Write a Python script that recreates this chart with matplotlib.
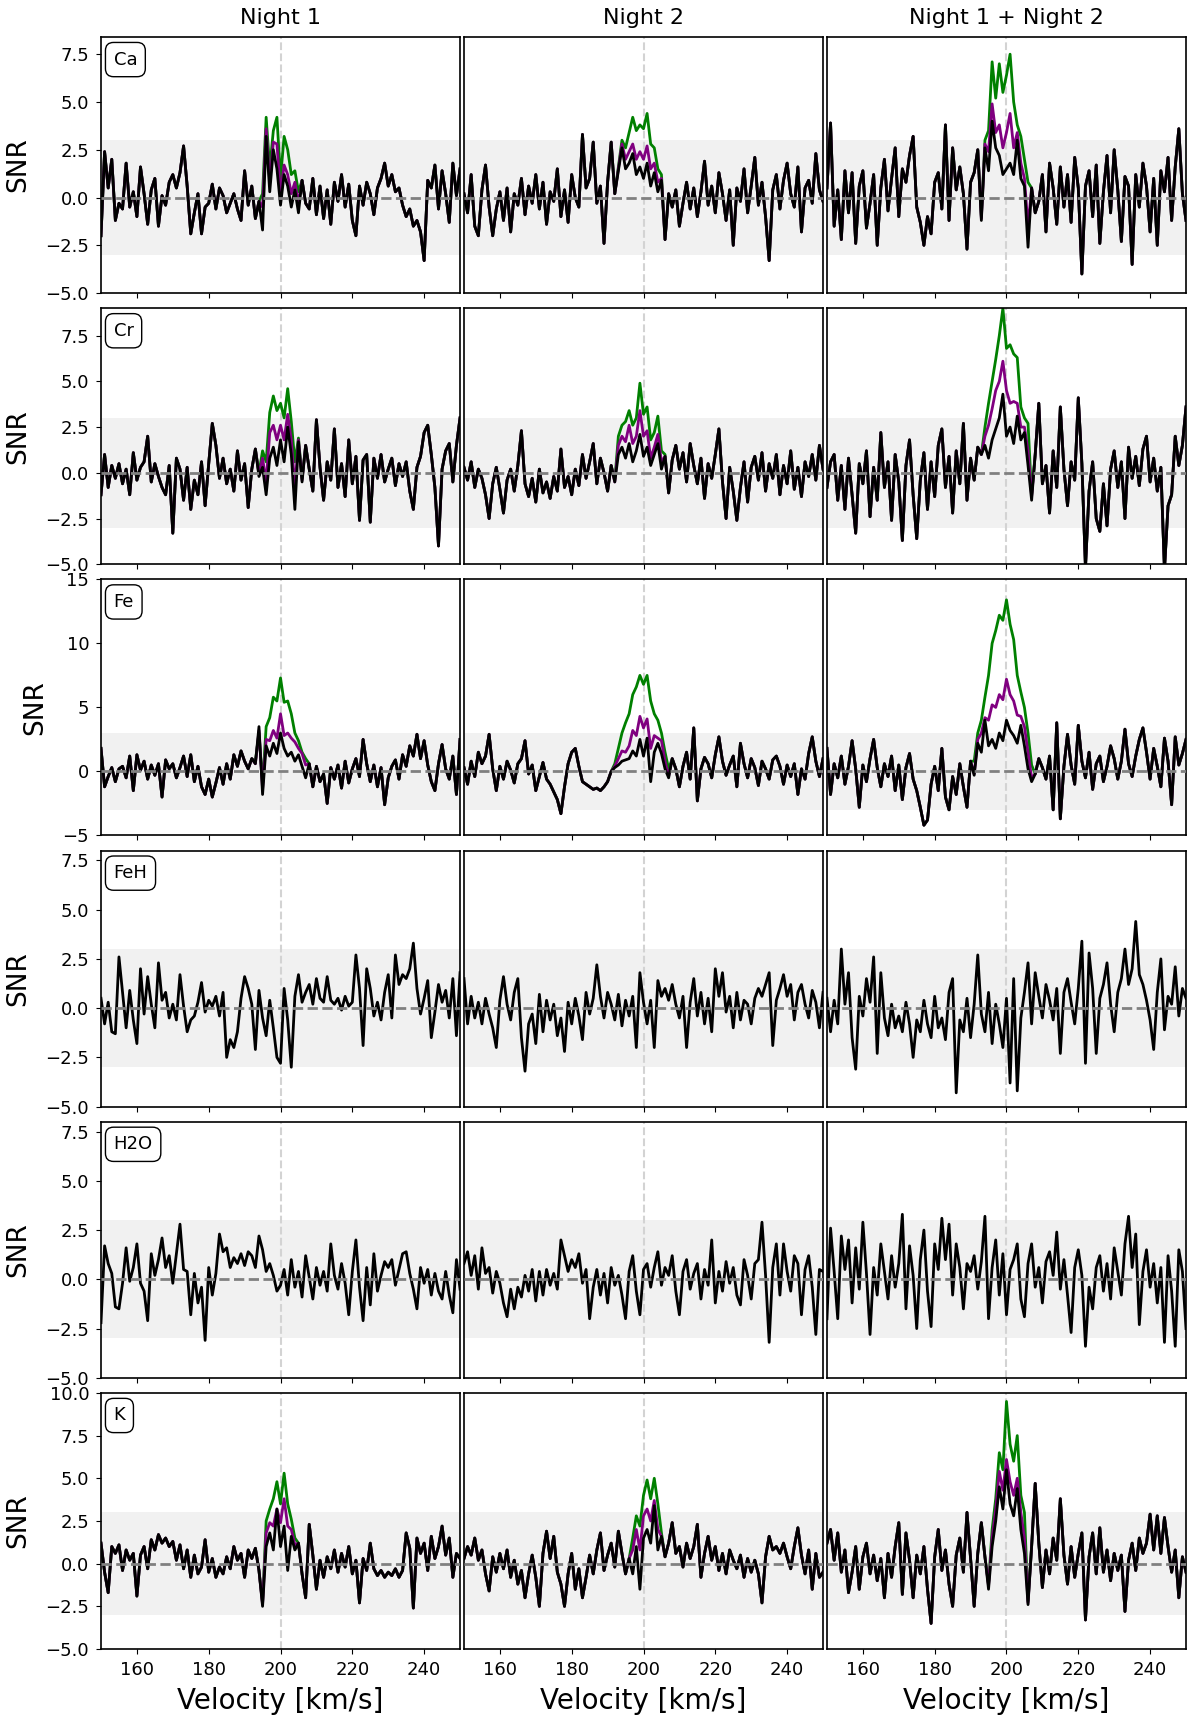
import numpy as np
import matplotlib
matplotlib.use("Agg")
import matplotlib.pyplot as plt

# velocity grid of the CCF, 1 km/s steps
velocity = np.arange(150, 251)

# ---------------- Ca ----------------
ca_n1 = [-2.0, 2.4, 0.5, 2.0, -1.2, -0.3, -0.6, 1.8, -0.5, 0.3,
         -1.0, 1.6, 0.2, -1.4, 0.4, 1.0, -1.5, 0.1, -0.4, 0.8,
         1.2, 0.5, 1.3, 2.7, 0.6, -1.9, -0.8, 0.2, -1.9, -0.5,
         -0.3, 0.7, -0.6, 0.5, 0.1, -0.8, -0.3, 0.2, -0.6, -1.2,
         1.4, -0.4, 0.6, -1.1, -0.2, -1.7, 3.2, 0.3, 2.5, 1.5,
         -0.4, 1.2, 0.6, -0.5, 0.4, -0.8, 0.9, -0.3, -0.6, 1.0,
         -0.9, 0.6, -1.1, 0.4, -1.4, 0.8, -0.2, 1.2, -0.5, 0.7,
         -1.2, -2.0, 0.6, -0.4, 0.8, 0.2, -0.9, 0.5, 1.0, 1.8,
         0.6, 1.2, 0.3, 0.5, -0.4, -1.0, -0.6, -1.5, -1.2, -1.8,
         -3.3, 0.9, 0.5, 1.7, -0.6, 1.4, 0.2, -1.3, 1.8, 0.1,
         1.5]
ca_n1_start = 195
ca_n1_green = [0.2, 4.2, 1.5, 3.5, 4.2, 1.0, 3.2, 2.5, 1.2, 1.4, 0.3, 0.9]
ca_n1_purple = [-0.5, 3.6, 0.8, 2.9, 2.8, 0.2, 1.7, 1.2, 0.2, 0.8, -0.3, 0.9]

ca_n2 = [0.2, -0.8, 1.2, -1.5, -2.0, 0.4, 1.7, -0.5, -2.0, -0.6,
         0.3, -1.2, 0.5, -1.8, 0.2, -0.4, 1.0, -0.9, 0.6, -0.3,
         1.2, -0.6, 0.8, -1.4, 0.3, -0.2, 1.5, -1.0, 0.4, -1.3,
         1.2, 0.0, -0.5, 3.3, 0.5, 1.0, 2.9, -0.3, 0.6, -2.4,
         0.8, 2.9, 0.2, 1.4, 2.6, 1.5, 1.8, 2.3, 1.2, 1.6,
         1.0, 1.8, 0.6, 1.3, 0.3, 0.9, -2.2, 0.2, -0.5, 0.4,
         -1.5, -0.3, 0.8, -0.6, 0.5, -1.0, 0.3, 1.9, -0.4, 0.6,
         -0.8, 1.3, 0.2, -1.2, 0.4, -2.5, 0.5, -0.2, 1.5, -0.8,
         0.6, 2.1, -0.4, 0.8, -1.0, -3.3, 0.4, 1.2, -0.6, 0.9,
         1.8, 0.2, -0.5, 1.6, -1.8, 0.5, 0.9, -0.3, 2.3, 0.4,
         -0.2]
ca_n2_start = 193
ca_n2_green = [1.6, 3.0, 2.6, 3.4, 4.2, 3.5, 3.8, 3.6, 4.4, 2.8, 2.6, 1.5, 1.2, -2.2]
ca_n2_purple = [1.5, 2.8, 2.0, 2.4, 2.8, 2.0, 2.4, 2.0, 2.7, 1.5, 1.8, 0.8, 1.0, -2.2]

ca_n12 = [0.5, 3.9, -1.5, 0.4, -2.2, 1.4, -0.8, 1.3, -2.4, 0.6,
          1.4, -1.6, -0.3, 1.2, -2.5, 0.5, 2.0, -0.7, 1.0, 2.6,
          -1.0, 1.5, 0.8, 2.2, 3.2, -0.5, -1.3, -2.5, -1.0, -1.9,
          0.8, 1.3, -0.6, 3.8, -1.2, 2.6, 0.4, 1.6, 0.2, -2.7,
          0.8, 1.3, 2.5, -1.2, 2.6, 1.4, 4.0, 2.6, 2.2, 1.2,
          1.5, 1.8, 1.2, 3.0, 1.0, 0.6, -2.6, 0.5, -0.8, -0.2,
          1.2, -1.8, 1.8, 0.5, -1.4, 1.6, -0.5, 1.2, -1.3, 2.1,
          0.5, -4.0, 0.6, 1.4, -1.0, 1.7, -2.4, 0.3, 2.2, -0.8,
          2.5, 0.4, -2.3, 1.1, 0.6, -3.5, 1.2, -0.5, 1.8, 0.6,
          -1.8, 1.0, -2.5, 1.4, 0.3, 2.1, -1.2, 1.6, 3.6, 0.2,
          -1.2]
ca_n12_start = 193
ca_n12_green = [-1.0, 3.0, 3.5, 7.1, 5.2, 7.0, 5.5, 6.4, 7.5, 5.0, 3.8, 3.2, 2.0, 0.8, 0.5]
ca_n12_purple = [-1.1, 2.8, 2.4, 4.9, 3.4, 3.8, 2.6, 3.4, 4.4, 2.6, 3.4, 1.8, 1.0, -1.5, 0.5]

# ---------------- Cr ----------------
cr_n1 = [-1.2, 1.0, -0.8, 0.4, -0.3, 0.5, -0.6, 0.2, -1.2, 1.1,
         -0.4, 0.3, 0.6, 2.0, -0.5, 0.5, -0.2, -0.8, -1.2, 0.4,
         -3.3, 0.8, 0.2, -1.5, 0.3, -2.0, -0.4, -1.2, 0.6, -1.8,
         0.5, 2.7, 1.5, -0.3, 0.8, -0.6, 0.2, -1.0, 1.2, -0.4,
         0.5, -1.9, 0.2, 1.3, -0.2, 0.3, -1.2, 0.8, 1.4, 0.4,
         1.8, 0.6, 2.5, 1.0, -2.0, 1.7, -0.5, 1.5, 0.2, -1.0,
         2.9, 0.3, -1.5, 0.6, -0.4, 2.4, -0.8, 0.5, -1.3, 1.8,
         -0.6, 0.9, -2.6, 0.7, 1.0, -2.7, 0.8, -0.3, 1.0, -0.5,
         0.2, 0.8, -0.7, 0.5, -0.2, 0.6, -1.0, -2.0, 0.3, 0.9,
         2.2, 2.6, 1.0, -0.8, -4.0, 0.2, 1.2, 1.6, -0.5, 1.5,
         3.0]
cr_n1_start = 194
cr_n1_green = [0.0, 1.2, 0.6, 3.3, 4.2, 3.4, 3.8, 3.0, 4.6, 2.8, 0.6, 1.9, -0.3, 1.5]
cr_n1_purple = [-0.1, 0.8, -0.5, 2.2, 2.6, 1.8, 2.6, 1.8, 3.2, 1.8, -0.8, 1.8, -0.4, 1.5]

cr_n2 = [0.3, -0.4, 0.6, -0.8, 0.2, -0.3, -1.2, -2.5, -0.6, 0.3,
         -0.9, -2.2, -0.4, 0.2, -1.0, 0.4, 2.3, -0.6, -1.3, -0.3,
         -1.6, 0.2, -1.1, -0.5, -1.4, -0.2, -1.0, 1.3, -0.8, -0.2,
         -1.2, 0.2, -0.7, 1.0, -0.3, 0.6, 1.6, -0.6, 0.8, 0.0,
         -1.0, 0.4, -0.5, 1.0, 1.4, 0.8, 1.6, 0.6, 1.2, 2.1,
         0.9, 1.4, 0.4, 1.0, 1.6, 0.2, 0.9, -1.1, 0.7, 1.5,
         0.2, 1.1, -0.5, 1.6, 0.4, -0.6, 0.8, -1.4, 0.5, -0.3,
         1.0, 2.4, -0.5, -2.5, 0.3, -1.0, -2.6, -0.8, 0.6, -1.6,
         0.3, 0.9, -0.4, 1.1, -1.0, 0.5, -0.3, 1.0, -1.2, 0.4,
         -0.6, 1.2, -0.9, 0.3, -1.3, 0.6, -0.2, 1.0, -0.4, 1.5,
         0.2]
cr_n2_start = 192
cr_n2_green = [-0.4, 2.0, 2.6, 2.8, 3.4, 2.6, 3.0, 4.9, 3.2, 3.6, 1.8, 2.2, 3.1, 1.2, 1.0, -1.1]
cr_n2_purple = [-0.5, 1.5, 2.0, 1.7, 2.6, 1.6, 2.0, 3.4, 2.0, 2.3, 0.8, 1.4, 2.1, 0.6, 0.9, -1.1]

cr_n12 = [-0.8, 0.6, 1.0, -1.5, 0.4, -2.0, 0.8, -1.2, -3.3, 0.5,
          -0.6, 1.2, -2.4, 0.3, -1.5, 2.2, -0.8, 0.6, -2.6, 1.0,
          -0.5, -3.7, 0.4, 1.8, -1.2, -3.6, -0.4, 1.1, -2.0, 0.6,
          -1.3, 1.5, 2.4, -0.8, 0.9, -2.2, 1.2, -0.6, 2.7, -1.5,
          0.8, -0.4, 1.4, 1.0, 1.5, 0.8, 1.8, 2.4, 3.0, 4.3,
          2.0, 2.5, 1.6, 3.1, 1.8, 2.2, 0.4, -1.5, 1.0, 3.8,
          -0.6, 0.4, -2.2, 1.2, -0.8, 3.6, 0.2, -1.8, 0.6, -0.4,
          4.1, 0.5, -5.2, -1.0, 0.6, -2.5, -3.2, -0.6, -2.9, 0.2,
          1.2, -0.8, 0.6, -2.5, 1.4, -0.3, 0.9, -0.7, 1.3, 2.0,
          -0.5, 0.8, -1.0, 0.3, -5.3, -1.8, -1.2, 2.0, 0.4, 1.5,
          3.6]
cr_n12_start = 193
cr_n12_green = [1.0, 2.5, 3.8, 5.0, 6.2, 7.5, 9.0, 6.8, 7.0, 6.5, 6.3, 3.6, 3.0, 2.7, -1.2]
cr_n12_purple = [1.0, 2.0, 2.6, 3.5, 4.5, 5.0, 6.1, 4.5, 3.8, 3.9, 3.8, 2.5, 2.5, 1.2, -1.3]

# ---------------- Fe ----------------
fe_n1 = [1.8, -1.2, -0.4, 0.3, -0.8, 0.2, 0.4, -0.5, 1.2, -1.5,
         1.3, 0.1, 0.8, -0.6, 0.5, -0.3, 0.6, -2.0, 0.9, 0.2,
         0.6, -0.5, 0.3, 1.2, -0.4, 1.3, -0.8, 0.4, -1.2, -1.8,
         -0.6, -2.0, -0.9, 0.3, -1.0, 0.6, -0.6, 1.3, 0.4, 1.6,
         0.8, 0.2, 1.0, 0.6, 3.5, -1.8, 2.0, 1.2, 2.2, 1.4,
         3.0, 1.8, 1.2, 1.5, 0.8, 1.3, 0.4, -0.5, 0.6, -1.2,
         0.4, -0.8, -0.2, -2.5, 0.3, -0.6, 0.5, -1.3, 0.8, -0.9,
         0.2, 1.0, -0.4, 2.5, 0.6, -0.8, 0.5, -1.2, 0.3, -2.6,
         -0.5, 0.4, 0.9, -0.6, 1.3, 0.4, 2.0, 1.2, 2.9, 1.0,
         2.4, 0.5, -0.8, -1.5, 0.6, 2.1, 0.2, -0.6, 1.2, -1.8,
         2.5]
fe_n1_start = 193
fe_n1_green = [0.8, 3.0, -1.0, 3.5, 4.2, 5.8, 5.5, 7.3, 5.4, 5.5, 4.5, 3.0, 2.4, 1.5, 1.0, 0.6]
fe_n1_purple = [0.6, 3.2, -1.4, 2.5, 2.4, 3.2, 2.6, 4.5, 2.8, 3.0, 2.6, 2.3, 1.8, 1.4, 0.5, 0.6]

fe_n2 = [0.3, -1.0, 0.8, -0.4, 1.5, 0.6, 1.2, 2.9, 0.2, -1.5,
         0.4, -0.6, 0.8, 0.1, -0.9, 0.6, 1.0, 2.4, -0.2, 0.5,
         -1.5, -0.4, 0.7, -0.6, -1.0, -1.6, -2.2, -3.3, -1.2, 0.6,
         1.5, 1.8, 0.4, -0.8, -1.0, -1.2, -1.4, -1.3, -1.5, -1.2,
         -0.8, 0.0, 0.3, 0.5, 0.8, 0.9, 1.0, 1.6, 1.2, 2.5,
         1.2, 2.6, -0.8, 1.5, 2.2, 1.4, 0.2, -0.5, 1.0, 0.2,
         -1.2, 0.4, 1.5, -0.6, 3.4, -2.3, 0.2, 1.1, 0.6, -0.5,
         1.3, 2.7, 0.8, -0.3, 0.5, 1.2, -1.2, 2.2, 0.6, -0.5,
         1.0, 0.3, -1.1, 0.8, 0.2, -0.6, 0.9, 1.2, 0.4, -1.0,
         0.5, -0.4, 0.6, -1.8, 0.2, -0.6, 1.4, 2.7, 0.8, -0.4,
         1.0]
fe_n2_start = 191
fe_n2_green = [0.0, 0.6, 1.8, 3.0, 3.8, 4.5, 6.0, 6.6, 7.5, 6.8, 7.5, 5.5, 4.5, 4.0, 3.0, 1.5, 0.2, 1.0]
fe_n2_purple = [0.0, 0.4, 1.0, 1.6, 1.5, 2.0, 3.2, 2.8, 4.3, 3.4, 4.1, 1.8, 2.8, 2.6, 2.4, 0.8, -0.4, 1.0]

fe_n12 = [1.8, -1.8, 0.6, -0.5, 1.2, -1.0, 0.4, 2.4, 0.2, -2.8,
          0.5, -0.8, 1.0, 2.5, 0.3, -1.2, 0.6, -0.4, 1.2, -1.5,
          0.5, -2.2, 0.3, 1.4, -0.6, -1.5, -2.8, -4.2, -3.8, -1.0,
          0.4, -1.5, 1.8, -2.0, -3.0, -0.4, -1.8, 0.6, -1.2, -2.8,
          0.8, -0.3, 2.2, 1.5, 4.0, 2.0, 2.5, 1.8, 3.0, 2.4,
          4.0, 3.2, 2.8, 2.2, 3.6, 2.0, 0.2, -0.8, -0.2, 1.0,
          0.3, -0.6, 1.2, -3.0, 3.8, -3.7, 0.4, 2.9, 0.5, -1.0,
          3.6, 0.8, -0.5, 1.5, -1.4, 0.6, 1.2, -0.8, 0.4, 2.0,
          1.0, -0.6, 0.8, 3.3, 0.6, -0.4, 1.2, 2.5, 3.4, 1.5,
          -0.6, 1.8, 0.4, -1.2, 2.6, 0.8, -2.6, 2.7, 0.5, 1.4,
          2.5]
fe_n12_start = 190
fe_n12_green = [0.8, 0.8, 3.0, 4.0, 5.8, 7.5, 10.0, 11.0, 12.2, 11.8, 13.4, 11.5, 10.3, 7.5, 6.2, 5.0, 3.0, 0.5, -0.2]
fe_n12_purple = [0.8, -0.2, 2.5, 3.0, 4.2, 4.0, 5.2, 5.0, 6.0, 5.6, 7.2, 6.0, 5.5, 4.4, 4.3, 3.5, 1.5, -0.5, -0.2]

# ---------------- FeH (no detection) ----------------
feh_n1 = [0.5, -0.8, 0.3, -1.2, -1.3, 2.6, 0.8, -1.0, 0.9, -0.6,
          -1.8, 2.0, -0.3, 1.6, 0.2, -1.0, 2.3, 0.4, 0.8, -0.5,
          0.2, -0.6, 1.7, 0.1, -1.2, -0.6, -0.4, 0.3, 1.3, -0.2,
          0.4, 0.1, 0.6, -0.4, 0.8, -2.5, -1.6, -2.0, -1.2, 0.5,
          1.6, 1.0, 0.2, -2.1, 0.9, -0.5, -1.4, 0.4, -1.0, -2.5,
          -2.8, 1.0, -0.6, -3.0, 0.6, 1.7, 0.3, 0.8, 1.2, 0.2,
          1.5, 0.5, 0.3, 1.6, 0.4, 0.2, 0.5, -0.1, 0.6, 0.1,
          0.3, 2.7, 1.0, -1.9, 2.0, 1.0, -0.4, 0.3, -0.6, 0.8,
          1.7, -0.5, 2.7, 1.2, 1.7, 1.5, 2.0, 3.3, 1.0, -0.3,
          0.5, 1.4, -1.5, -0.2, 1.2, 0.3, 0.9, -0.5, 1.5, -1.4,
          1.8]
feh_n2 = [1.5, -0.8, 0.6, -0.5, 0.3, -0.8, 0.5, -0.3, -1.0, -2.0,
          0.4, 1.6, 0.2, -0.6, 0.8, 1.5, -1.5, -3.2, -0.8, -0.3,
          -1.8, 0.7, -1.2, 0.4, -0.6, 0.2, -1.4, -0.5, -2.2, 0.3,
          -0.8, 0.5, -0.4, -1.6, 0.8, -0.3, 0.5, 2.2, 0.6, -0.5,
          0.8, 0.2, -0.6, 0.7, -0.9, 0.4, -0.4, 0.6, -2.0, 1.8,
          0.3, -0.8, 0.4, -2.0, 1.4, 0.6, 1.0, 0.4, 1.2, 0.2,
          -0.5, 0.6, -2.0, 0.3, 1.5, -0.4, 0.8, -0.8, 0.5, -1.2,
          2.0, 0.6, 1.8, -0.2, 0.6, -1.0, 0.8, -0.6, 0.4, 0.2,
          -0.8, 0.5, 1.0, 0.6, 1.2, 1.8, -1.9, 0.4, 1.0, 1.7,
          0.6, 1.2, -0.6, 0.8, 1.2, 0.2, -0.5, 0.9, 0.3, -1.0,
          0.8]
feh_n12 = [0.5, -1.2, 0.4, -0.8, 3.0, 0.2, 1.8, -1.5, -3.1, 0.6,
           -0.4, 1.5, 0.3, 2.6, -2.3, 1.8, -0.5, -1.4, 0.2, -1.0,
           -0.4, -1.2, 0.3, -0.8, -2.5, -0.6, -1.2, 0.4, -0.8, -1.5,
           0.6, -1.0, -0.5, -1.6, 0.8, 1.5, -4.3, -0.6, -1.2, 0.5,
           -1.5, 0.2, 2.7, -0.3, -1.2, 0.8, -1.8, 0.2, -0.8, -2.0,
           0.5, -3.8, 1.5, -4.2, -0.5, 0.8, 2.3, -0.8, 1.8, 0.6,
           -0.5, 1.2, 0.4, -0.6, 1.0, -2.3, 0.8, 1.5, 0.3, -0.8,
           1.0, 3.4, -2.8, 2.8, 1.0, -2.3, 0.5, 1.2, 2.3, 0.2,
           -1.2, 0.8, 1.5, 3.0, 1.2, 2.0, 4.4, 1.7, 1.2, 0.4,
           -0.6, -2.1, 0.8, 2.5, -1.1, 0.6, 0.2, 2.1, -0.4, 1.0,
           0.5]

# ---------------- H2O (no detection) ----------------
h2o_n1 = [-2.2, 1.7, 0.8, 0.3, -1.4, -1.5, -0.2, 1.6, -0.1, 0.6,
          1.8, -0.2, -0.6, -2.1, 1.3, 0.2, 1.0, 2.1, 0.6, 1.2,
          -0.2, 1.3, 2.8, 0.5, 0.4, -1.8, 0.3, -1.2, -0.4, -3.1,
          0.6, -0.8, 0.3, 2.3, 1.4, 1.6, 0.6, 1.1, 0.8, 1.3,
          0.7, 1.4, 1.2, 0.6, 2.2, 1.5, 0.4, 0.8, 0.2, -0.6,
          -0.3, 0.5, -0.8, 1.0, -0.4, 0.4, -0.9, 1.2, 0.1, -1.0,
          0.6, -0.3, 0.4, -0.6, 1.8, 0.2, -0.5, 0.8, -0.2, -1.8,
          0.4, 2.0, -0.4, -2.1, 0.6, -1.3, 1.3, -0.6, 0.2, 0.9,
          0.6, 1.0, -0.3, 0.5, 1.3, 1.4, 0.3, -0.5, -1.5, 0.6,
          -0.2, 0.5, -0.8, 0.3, -0.6, -1.0, 0.4, -0.8, -1.7, 1.0,
          -0.5]
h2o_n2 = [0.8, 1.4, 0.2, 1.2, -0.5, 1.6, 0.3, 0.6, -0.7, 0.4,
          -0.2, -1.2, -1.9, -0.5, -1.5, -0.4, -0.9, 0.2, -0.6, 0.5,
          -1.1, 0.4, -0.8, 0.5, -0.3, 0.3, -0.5, 2.0, 1.2, 0.4,
          1.0, 0.6, 1.3, -0.2, 0.5, -2.0, -0.4, 0.5, -0.8, 0.3,
          -1.2, 0.6, -0.3, 0.2, -0.8, -2.0, 0.4, 1.2, -0.6, -1.8,
          0.5, 0.8, -0.4, 0.6, 1.4, -0.3, 0.6, 0.2, 1.2, -0.6,
          -1.8, 0.4, 1.0, -0.5, 0.3, 0.8, -1.0, 0.5, -0.3, 2.0,
          -1.2, 0.4, -0.6, 0.9, -0.2, 0.6, -0.8, -1.3, 1.0, 0.2,
          -1.0, 0.8, 1.0, 2.9, 0.2, -3.2, 0.6, 1.8, -0.8, 1.8,
          0.4, -0.6, 1.2, 0.8, -1.8, 0.5, 1.2, -0.4, -2.8, 0.5,
          0.4]
h2o_n12 = [-2.0, 2.6, 0.4, -2.0, 2.2, 0.5, 2.0, -1.2, 1.6, -0.5,
           2.9, 0.3, -2.8, 0.6, -0.8, 1.8, 0.4, -1.0, 1.2, -0.4,
           0.8, 3.3, -1.5, 1.7, 0.2, -2.5, 1.0, 2.5, -0.6, -2.4,
           1.8, 0.5, 3.1, 1.0, 2.8, -0.8, 1.8, 0.6, -1.5, 0.8,
           0.4, 1.2, -0.5, 0.9, 3.2, -2.0, 0.6, 2.0, -0.8, 1.3,
           -1.8, 0.5, 1.0, 1.8, -1.0, -1.9, 0.8, 1.8, -0.4, 0.6,
           -1.2, 0.9, 1.4, 0.2, 2.4, -0.5, 1.0, -0.8, -2.7, 0.6,
           1.5, 0.2, -3.4, -0.4, -1.5, 0.6, 1.2, -0.6, 0.8, -1.0,
           1.6, 0.4, -0.8, 1.8, 3.2, 0.6, 2.3, -2.3, 0.4, 1.5,
           -0.4, 0.8, -1.2, 0.6, -3.2, 1.2, -0.6, -3.4, 1.5, 0.4,
           -2.5]

# ---------------- K ----------------
k_n1 = [1.2, -0.5, -1.7, 1.0, 0.6, 1.1, -0.4, 0.8, 0.2, 0.6,
        -1.9, 0.5, 1.0, -0.3, 1.4, 0.8, 1.7, 1.2, 1.5, 1.0,
        1.3, 0.2, 1.1, -0.3, 0.8, -0.8, 0.5, -0.6, -0.2, 1.4,
        -0.5, 0.3, -0.8, -0.2, -0.6, 0.4, -0.3, 1.0, 0.2, 0.6,
        -0.8, 0.8, 0.3, 0.9, -0.4, -2.5, 1.0, 1.8, 0.8, 3.2,
        1.0, 2.2, -0.4, 1.6, 0.8, 1.2, -0.6, -2.0, 2.3, 0.5,
        -1.5, 0.2, -0.8, 0.4, -0.3, 0.8, -0.5, 0.6, -0.2, 1.0,
        -0.6, 0.2, -2.3, 0.3, -0.4, 1.2, -0.3, -0.7, -0.4, -0.8,
        -0.5, -0.7, -0.3, -0.8, -0.4, 1.8, 0.9, -2.6, 1.5, 0.6,
        1.2, -0.4, 1.6, 0.3, 1.0, 2.2, 0.5, 1.5, -0.8, 0.6,
        0.3]
k_n1_start = 195
k_n1_green = [-2.3, 2.5, 3.2, 3.8, 4.8, 3.5, 5.3, 3.5, 2.6, 1.5, 1.2]
k_n1_purple = [-2.4, 1.8, 2.4, 2.2, 3.2, 2.4, 3.8, 2.2, 2.0, 1.1, 1.2]

k_n2 = [0.3, 1.0, 0.5, 1.5, 0.2, 0.8, -0.6, -1.6, 0.4, -0.5,
        0.6, -0.3, 0.8, -0.8, 0.2, -1.2, -0.4, -2.0, -0.6, 0.5,
        -0.8, -2.5, 0.6, 1.9, 0.3, 1.6, -0.5, -1.2, -2.5, -0.6,
        0.6, -1.5, -0.3, -2.0, -0.8, 0.5, -0.6, 0.8, 1.8, -0.4,
        0.5, 1.2, -0.2, 1.9, 0.6, -0.6, 0.3, -0.6, 1.0, -1.5,
        1.5, 2.0, 1.2, 3.4, 0.8, 1.6, 0.4, 1.2, 2.4, 0.6,
        1.0, -0.2, 1.2, 0.3, 1.0, 2.3, -0.8, 0.6, 1.6, 0.2,
        1.0, -0.4, 0.6, -0.6, 0.8, 0.2, -0.3, 0.5, -0.8, 0.3,
        -0.5, 0.2, -0.6, -2.3, 0.4, 1.6, 0.8, 1.0, 0.6, 1.2,
        0.4, -0.3, 1.0, 2.1, 0.5, -0.6, 0.8, -1.5, 0.6, -0.8,
        -0.5]
k_n2_start = 196
k_n2_green = [0.3, 1.5, 2.8, 2.2, 4.0, 4.9, 3.8, 5.0, 3.5, 1.8]
k_n2_purple = [0.3, 0.8, 2.0, 0.8, 2.8, 3.2, 2.5, 3.7, 2.0, 1.6]

k_n12 = [1.2, 2.0, 0.2, 1.8, -0.5, 0.8, -1.7, -0.5, 1.0, -1.5,
         0.4, 1.2, -0.6, 0.5, -1.0, 0.3, -2.0, 0.6, -0.8, 1.0,
         2.4, -1.8, 1.8, 0.2, -2.0, 0.5, -0.6, 1.0, -1.5, -3.5,
         0.4, 2.0, -0.4, 0.8, -1.2, -2.5, 0.5, 1.5, -0.5, 3.0,
         0.3, -2.5, 0.6, 2.4, 0.4, -1.5, 1.0, 2.5, 4.5, 3.2,
         5.5, 3.5, 2.8, 4.4, 2.0, 0.6, -2.4, 1.0, 4.7, 1.2,
         -1.4, 0.8, -0.6, 1.5, 0.2, 3.8, 0.5, -1.2, 1.0, -0.8,
         0.6, 1.8, -3.3, 0.4, 1.8, -0.6, 2.1, -0.5, 0.8, -1.0,
         0.6, -0.4, 0.5, -2.8, 0.2, 1.2, -0.4, 1.5, 0.6, 1.2,
         2.9, 0.8, 2.8, 0.6, 2.7, 1.0, -0.5, 0.8, -2.0, 0.4,
         -0.5]
k_n12_start = 194
k_n12_green = [0.4, -1.2, 2.0, 3.8, 6.5, 5.5, 9.5, 7.0, 6.0, 7.5, 4.0, 3.0, -2.2]
k_n12_purple = [0.4, -1.3, 1.5, 3.2, 5.4, 4.3, 6.1, 4.8, 4.0, 5.0, 3.0, 1.5, -2.3]

species = ["Ca", "Cr", "Fe", "FeH", "H2O", "K"]
col_titles = ["Night 1", "Night 2", "Night 1 + Night 2"]
ylims = [(-5, 8.4), (-5, 9.0), (-5, 15), (-5, 8.0), (-5, 8.0), (-5, 10)]
yticks = [[-5, -2.5, 0, 2.5, 5, 7.5], [-5, -2.5, 0, 2.5, 5, 7.5], [-5, 0, 5, 10, 15],
          [-5, -2.5, 0, 2.5, 5, 7.5], [-5, -2.5, 0, 2.5, 5, 7.5], [-5, -2.5, 0, 2.5, 5, 7.5, 10]]

black = [[ca_n1, ca_n2, ca_n12], [cr_n1, cr_n2, cr_n12], [fe_n1, fe_n2, fe_n12],
         [feh_n1, feh_n2, feh_n12], [h2o_n1, h2o_n2, h2o_n12], [k_n1, k_n2, k_n12]]
peaks = [
    [(ca_n1_start, ca_n1_green, ca_n1_purple), (ca_n2_start, ca_n2_green, ca_n2_purple),
     (ca_n12_start, ca_n12_green, ca_n12_purple)],
    [(cr_n1_start, cr_n1_green, cr_n1_purple), (cr_n2_start, cr_n2_green, cr_n2_purple),
     (cr_n12_start, cr_n12_green, cr_n12_purple)],
    [(fe_n1_start, fe_n1_green, fe_n1_purple), (fe_n2_start, fe_n2_green, fe_n2_purple),
     (fe_n12_start, fe_n12_green, fe_n12_purple)],
    [None, None, None],
    [None, None, None],
    [(k_n1_start, k_n1_green, k_n1_purple), (k_n2_start, k_n2_green, k_n2_purple),
     (k_n12_start, k_n12_green, k_n12_purple)],
]


def with_peak(base, start, seg):
    out = np.array(base, dtype=float)
    i = start - velocity[0]
    out[i:i + len(seg)] = seg
    return out


fig, axes = plt.subplots(6, 3, figsize=(12, 17.27), dpi=100)
fig.subplots_adjust(left=101 / 1200, right=1186 / 1200, top=1 - 37 / 1727,
                    bottom=1 - 1649 / 1727, wspace=0.011, hspace=0.059)

for r in range(6):
    for c in range(3):
        ax = axes[r, c]
        snr = np.array(black[r][c], dtype=float)
        assert len(snr) == len(velocity), (species[r], c, len(snr))
        ax.axhspan(-3, 3, color="lightgrey", alpha=0.3, lw=0, zorder=0)
        ax.axvline(200, color="lightgrey", ls="--", lw=1.5, zorder=1)
        pk = peaks[r][c]
        if pk is not None:
            start, green, purple = pk
            ax.plot(velocity, with_peak(snr, start, green), color="green", lw=2, zorder=2)
            ax.plot(velocity, with_peak(snr, start, purple), color="purple", lw=2, zorder=2)
        ax.plot(velocity, snr, color="black", lw=2, zorder=3)
        ax.axhline(0, color="grey", ls="--", lw=2, zorder=4)

        ax.set_xlim(150, 250)
        ax.set_ylim(*ylims[r])
        ax.set_xticks([160, 180, 200, 220, 240])
        ax.set_yticks(yticks[r])
        ax.tick_params(labelsize=13, pad=5)
        for sp in ax.spines.values():
            sp.set_linewidth(1.2)
        if r < 5:
            ax.tick_params(labelbottom=False)
        else:
            ax.set_xlabel("Velocity [km/s]", fontsize=20, labelpad=6)
        if c > 0:
            ax.tick_params(labelleft=False, left=False)
        else:
            ax.set_ylabel("SNR", fontsize=19, labelpad=10)
            ax.text(0.035, 0.947, species[r], transform=ax.transAxes, fontsize=13,
                    ha="left", va="top", zorder=6,
                    bbox=dict(boxstyle="round,pad=0.45", facecolor="white", edgecolor="black"))
        if r == 0:
            ax.set_title(col_titles[c], fontsize=16, pad=9)

fig.savefig("out.png", dpi=100)
